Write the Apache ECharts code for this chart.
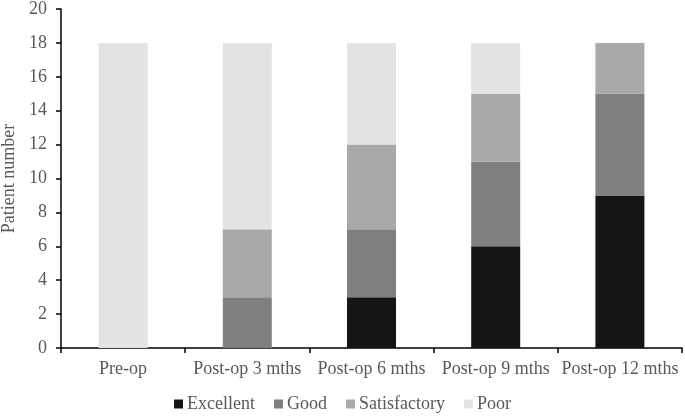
<!DOCTYPE html>
<html>
<head>
<meta charset="utf-8">
<script src="https://cdn.jsdelivr.net/npm/echarts@6/dist/echarts.min.js"></script>
<style>html,body{margin:0;padding:0;background:#fff;}#c{width:685px;height:416px;}</style>
</head>
<body>
<div id="c"></div>
<script>
const categories = ['Pre-op', 'Post-op 3 mths', 'Post-op 6 mths', 'Post-op 9 mths', 'Post-op 12 mths'];
const excellent = [0, 0, 3, 6, 9];
const good = [0, 3, 4, 5, 6];
const satisfactory = [0, 4, 5, 4, 3];
const poor = [18, 11, 6, 3, 0];
const seriesNames = ['Excellent', 'Good', 'Satisfactory', 'Poor'];
const colors = ['#151515', '#7f7f7f', '#a9a9a9', '#e3e3e3'];
const font = '"Liberation Serif", "Times New Roman", serif';
const txt = '#595959';

const chart = echarts.init(document.getElementById('c'));
const datasets = [excellent, good, satisfactory, poor];
chart.setOption({
  animation: false,
  color: colors,
  textStyle: { fontFamily: font },
  grid: { left: 61, right: 3, top: 9, bottom: 68, containLabel: false, outerBoundsMode: 'none' },
  legend: {
    top: 390,
    left: 'center',
    itemWidth: 9,
    itemHeight: 9,
    itemGap: 19,
    icon: 'rect',
    textStyle: { fontFamily: font, fontSize: 18, color: txt, padding: [0, 0, 0, -1] },
    data: seriesNames
  },
  xAxis: {
    type: 'category',
    data: categories,
    axisLine: { lineStyle: { color: '#000', width: 1.5 } },
    axisTick: { show: true, length: 5, lineStyle: { color: '#000', width: 1.5 } },
    axisLabel: { fontFamily: font, fontSize: 18, color: txt, margin: 12, interval: 0 }
  },
  yAxis: {
    type: 'value',
    min: 0,
    max: 20,
    interval: 2,
    name: 'Patient number',
    nameLocation: 'middle',
    nameGap: 40,
    nameTextStyle: { fontFamily: font, fontSize: 18, color: txt },
    splitLine: { show: false },
    axisLine: { show: true, lineStyle: { color: '#000', width: 1.5 } },
    axisTick: { show: true, length: 5, lineStyle: { color: '#000', width: 1.5 } },
    axisLabel: { fontFamily: font, fontSize: 18, color: txt, margin: 14 }
  },
  series: seriesNames.map((n, i) => ({
    name: n,
    type: 'bar',
    stack: 'total',
    barWidth: 49,
    data: datasets[i],
    itemStyle: { color: colors[i] }
  }))
});
</script>
</body>
</html>
